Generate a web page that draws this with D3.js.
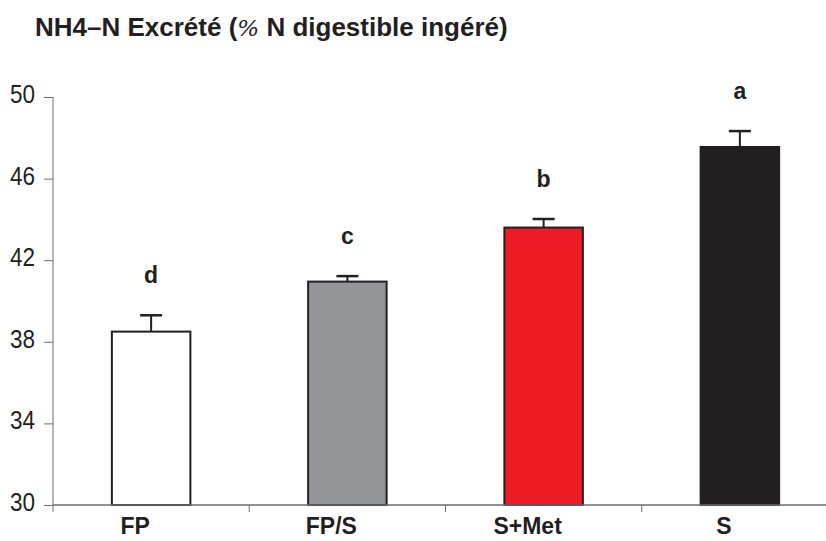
<!DOCTYPE html>
<html>
<head>
<meta charset="utf-8">
<script src="https://cdn.jsdelivr.net/npm/d3@7"></script>
<style>
  body { margin: 0; background: #fff; }
  svg { display: block; }
</style>
</head>
<body>
<div id="content"></div>
<script>
// data
const categories = ["FP", "FP/S", "S+Met", "S"];
const means = [38.5, 40.95, 43.6, 47.55];
const errors = [0.8, 0.27, 0.42, 0.78];
const letters = ["d", "c", "b", "a"];
const colors = ["#ffffff", "#939598", "#ed1c24", "#231f20"];
const yTicks = [30, 34, 38, 42, 46, 50];

const w = 826;
const h = 541;

const xScale = d3.scaleBand()
  .domain(categories)
  .range([53, 838])
  .paddingInner(0.6)
  .paddingOuter(0.3);

const yScale = d3.scaleLinear()
  .domain([30, 50])
  .range([505, 97]);

const svg = d3.select("#content")
  .append("svg")
  .attr("width", w)
  .attr("height", h);

// title
const title = svg.append("text")
  .attr("x", 35)
  .attr("y", 36)
  .attr("font-family", "Liberation Sans, Arial, sans-serif")
  .attr("font-weight", "bold")
  .attr("font-size", 26)
  .attr("fill", "#231f20");
title.append("tspan").text("NH4\u2013N Excrété (");
title.append("tspan")
  .attr("font-family", "DejaVu Serif, serif")
  .attr("font-style", "italic")
  .attr("font-weight", "normal")
  .attr("font-size", 23)
  .text("%");
title.append("tspan").text(" N digestible ingéré)");

// y axis
const yAxis = d3.axisLeft(yScale).tickValues(yTicks).tickSize(9).tickPadding(0);
const gy = svg.append("g")
  .attr("transform", "translate(53,0)")
  .call(yAxis);
gy.select(".domain").attr("stroke", "#6d6e71").attr("d", "M0,97V505");
gy.selectAll(".tick line").attr("stroke", "#6d6e71");
gy.selectAll(".tick text")
  .attr("x", -20)
  .attr("dy", "0.22em")
  .attr("transform", "scale(0.9,1)")
  .attr("font-family", "Liberation Sans, Arial, sans-serif")
  .attr("font-size", 25)
  .attr("fill", "#231f20");

// bars
svg.selectAll("rect.bar")
  .data(means)
  .enter()
  .append("rect")
  .attr("class", "bar")
  .attr("x", (d, i) => xScale(categories[i]))
  .attr("y", d => yScale(d))
  .attr("width", xScale.bandwidth())
  .attr("height", d => yScale(30) - yScale(d))
  .attr("fill", (d, i) => colors[i])
  .attr("stroke", "#231f20")
  .attr("stroke-width", 2);

// error bars (upper only)
const cx = i => xScale(categories[i]) + xScale.bandwidth() / 2;
svg.selectAll("line.err")
  .data(means)
  .enter()
  .append("line")
  .attr("class", "err")
  .attr("x1", (d, i) => cx(i))
  .attr("x2", (d, i) => cx(i))
  .attr("y1", d => yScale(d))
  .attr("y2", (d, i) => yScale(d + errors[i]))
  .attr("stroke", "#231f20")
  .attr("stroke-width", 2);
svg.selectAll("line.cap")
  .data(means)
  .enter()
  .append("line")
  .attr("class", "cap")
  .attr("x1", (d, i) => cx(i) - 11)
  .attr("x2", (d, i) => cx(i) + 11)
  .attr("y1", (d, i) => yScale(d + errors[i]))
  .attr("y2", (d, i) => yScale(d + errors[i]))
  .attr("stroke", "#231f20")
  .attr("stroke-width", 2.5);

// significance letters
svg.selectAll("text.letter")
  .data(letters)
  .enter()
  .append("text")
  .attr("class", "letter")
  .attr("x", (d, i) => cx(i))
  .attr("y", (d, i) => yScale(means[i] + errors[i]) - 32)
  .attr("text-anchor", "middle")
  .attr("font-family", "Liberation Sans, Arial, sans-serif")
  .attr("font-weight", "bold")
  .attr("font-size", 23)
  .attr("fill", "#231f20")
  .text(d => d);

// x axis
const xTickScale = d3.scalePoint().domain(d3.range(5)).range([53, 838]);
svg.append("line")
  .attr("x1", 53).attr("x2", w)
  .attr("y1", yScale(30)).attr("y2", yScale(30))
  .attr("stroke", "#6d6e71").attr("stroke-width", 1.5);
svg.selectAll("line.xtick")
  .data(d3.range(4))
  .enter()
  .append("line")
  .attr("class", "xtick")
  .attr("x1", d => xTickScale(d)).attr("x2", d => xTickScale(d))
  .attr("y1", yScale(30)).attr("y2", yScale(30) + 7)
  .attr("stroke", "#6d6e71");
svg.selectAll("text.xlab")
  .data(categories)
  .enter()
  .append("text")
  .attr("class", "xlab")
  .attr("x", (d, i) => cx(i) - 16)
  .attr("y", 534)
  .attr("text-anchor", "middle")
  .attr("font-family", "Liberation Sans, Arial, sans-serif")
  .attr("font-weight", "bold")
  .attr("font-size", 23)
  .attr("fill", "#231f20")
  .text(d => d);
</script>
</body>
</html>
